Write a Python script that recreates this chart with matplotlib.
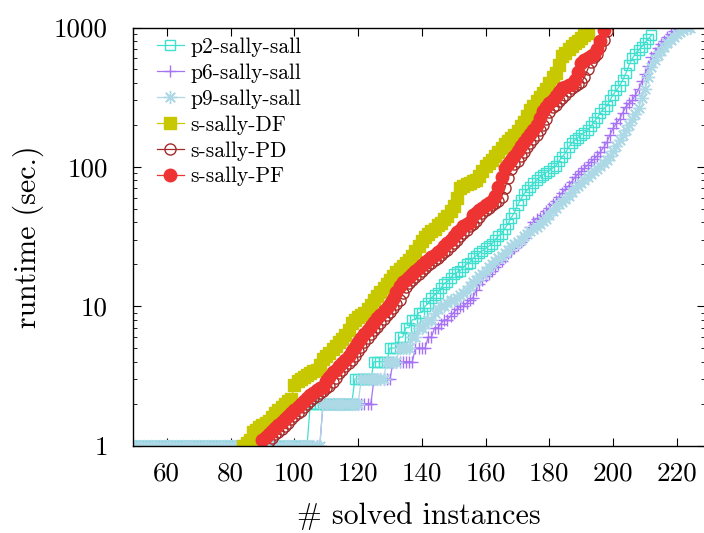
import numpy as np
import matplotlib
matplotlib.use('Agg')
import matplotlib.pyplot as plt
from matplotlib.ticker import FixedLocator, NullFormatter, LogLocator

plt.rcParams['font.family'] = ['cmr10', 'DejaVu Serif']
plt.rcParams['axes.formatter.use_mathtext'] = True

# runtime (sec.) of each solved instance, sorted; x = number of solved instances
p2_start = 50
p2_runtime = ([1] * 55 + [2] * 14 + [3] * 6 + [4] * 5 + [5] * 3 + [6] * 2 +
              [7, 7, 8, 8, 9, 9, 10, 10.5, 11.5, 12,
               12.5, 13.5, 14.5, 15, 16, 17, 17.5, 18, 19, 20,
               20.5, 22, 23, 24, 25, 26, 27, 28, 30, 32,
               33, 36, 39, 43, 47, 53, 58, 64, 68, 72,
               76, 80, 84, 88, 91, 94, 98, 101, 110, 118,
               125, 138, 148, 155, 162, 170, 176, 183, 195, 210,
               225, 245, 262, 272, 300, 330, 355, 380, 420, 470,
               540, 600, 650, 690, 730, 780, 830, 880])

p6_start = 50
p6_runtime = ([1] * 59 + [2] * 16 + [3] * 6 + [4] * 7 + [5] * 4 + [6] * 2 +
              [7, 7, 7.5, 8, 8, 8.5, 9, 9.5, 10, 10,
               10.5, 11, 11.5, 13, 14.5, 15.5, 16.5, 17, 18, 19,
               20, 21, 22.5, 24, 25, 26, 27.5, 29, 31, 33,
               37, 40, 42, 43, 45, 48, 51, 54, 57, 61,
               65, 69, 73, 78, 84, 89, 93, 98, 103, 108,
               114, 120, 128, 138, 150, 170, 190, 205, 220, 245,
               270, 285, 300, 330, 360, 410, 460, 530, 610, 660,
               710, 760, 800, 850, 900, 950, 990])

p9_start = 50
p9_runtime = ([1] * 59 + [2] * 12 + [3] * 8 + [4] * 4 + [5] * 4 + [6] * 2 +
              [7, 7, 7.5, 8, 8, 9, 9.5, 10, 10, 10.5,
               11, 11, 11.5, 12, 12.5, 13, 14, 15, 15.5, 16.5,
               17, 18, 19, 20, 21, 22, 23, 24, 25.5, 27,
               28, 29, 30, 32, 33, 34.5, 36, 37, 39, 41,
               42, 45, 48, 51, 54, 56, 59, 62, 66, 70,
               73, 76, 80, 84, 89, 93, 97, 102, 106, 112,
               120, 130, 142, 155, 168, 185, 200, 220, 240, 265,
               310, 360, 440, 520, 580, 630, 680, 730, 780, 820,
               860, 900, 930, 960, 985, 1000])

df_start = 84
df_runtime = [1.0,
              1.05, 1.1, 1.25, 1.3, 1.35, 1.4, 1.45, 1.5, 1.6, 1.7,
              1.8, 1.9, 2.0, 2.1, 2.15, 2.7, 2.9, 3.0, 3.1, 3.2,
              3.3, 3.4, 3.5, 3.8, 4.2, 4.4, 4.6, 4.9, 5.2, 5.5,
              5.8, 6.2, 6.8, 7.6, 8.0, 8.4, 8.7, 9.0, 9.5, 10.2,
              11, 11.8, 12.6, 13.5, 14.5, 15.5, 16.5, 17.5, 18.5, 19.5,
              20.5, 21.6, 23, 25, 27, 29.5, 31.6, 33, 34.5, 36,
              38, 39.8, 42, 44.5, 48, 52, 60, 70, 73, 75,
              77, 79, 81, 86, 93, 101, 107, 112, 119, 128,
              137, 147, 152, 160, 170, 180, 195, 210, 230, 255,
              275, 295, 315, 340, 360, 400, 440, 475, 540, 620,
              660, 700, 735, 770, 800, 840, 880, 910]

pd_start = 92
pd_runtime = [1.08, 1.14, 1.2, 1.26, 1.32, 1.39, 1.46, 1.54, 1.62, 1.7,
              1.78, 1.88, 1.98, 2.08, 2.18, 2.28, 2.38, 2.48, 2.58, 2.66,
              2.85, 3.05, 3.3, 3.5, 3.7, 3.9, 4.1, 4.4, 4.75, 5.1,
              5.5, 5.9, 6.3, 6.7, 7.1, 7.6, 8.1, 8.6, 9.1, 9.7,
              10.3, 11.1, 12.4, 13.8, 14.7, 15.5, 16.2, 17, 17.8, 18.7,
              19.6, 20.5, 21.4, 22.3, 23.3, 24.3, 25.5, 27, 28.5, 30,
              31.8, 33.5, 35.5, 37.5, 39, 41, 44, 47, 49, 51,
              53, 55, 57, 61, 70, 83, 96, 104, 111, 119,
              128, 138, 148, 158, 170, 183, 198, 222, 248, 268,
              280, 295, 310, 330, 350, 365, 378, 390, 405, 440,
              500, 570, 610, 650, 720, 820, 950]

pf_start = 90
pf_runtime = [1.1, 1.15, 1.2, 1.27, 1.33, 1.4, 1.48, 1.55, 1.63, 1.7,
              1.8, 1.9, 2.0, 2.1, 2.2, 2.3, 2.4, 2.5, 2.6, 2.65,
              2.9, 3.1, 3.35, 3.5, 3.7, 3.9, 4.1, 4.4, 4.8, 5.1,
              5.5, 5.9, 6.3, 6.7, 7.2, 7.7, 8.2, 8.7, 9.2, 9.7,
              10.3, 11.2, 12.6, 14, 14.8, 15.5, 16.2, 17, 17.8, 18.7,
              19.6, 20.6, 21.5, 22.4, 23.3, 24.3, 25.5, 27, 28.5, 30,
              31.8, 33.8, 35.5, 37.5, 39, 40, 45, 47, 49, 51,
              53, 55, 57, 62, 72, 85, 98, 105, 112, 119,
              130, 140, 150, 160, 172, 185, 200, 225, 250, 270,
              285, 300, 320, 345, 365, 375, 385, 395, 420, 480,
              560, 580, 600, 620, 650, 700, 800, 960]

series = [
    ('p2-sally-sall', p2_start, p2_runtime, '#40e0d0', 's', 7.0, 'none'),
    ('p6-sally-sall', p6_start, p6_runtime, '#a673f7', '+', 9.0, None),
    ('p9-sally-sall', p9_start, p9_runtime, '#add8e6', (8, 2, 0), 9.5, None),
    ('s-sally-DF', df_start, df_runtime, '#c8c800', 's', 9.0, '#c8c800'),
    ('s-sally-PD', pd_start, pd_runtime, '#a52a2a', 'o', 8.0, 'none'),
    ('s-sally-PF', pf_start, pf_runtime, '#ee3333', 'o', 9.0, '#ee3333'),
]

fig = plt.figure(figsize=(7.04, 5.33), dpi=100)
ax = fig.add_axes([133 / 704, 87.5 / 533, 572 / 704, 418 / 533])

for label, start, runtime, color, marker, ms, face in series:
    x = np.arange(start, start + len(runtime))
    kw = dict(markerfacecolor=face) if face is not None else {}
    ax.plot(x, runtime, color=color, lw=0.9, marker=marker, ms=ms,
            mew=1.0, label=label, **kw)

ax.set_yscale('log')
ax.set_xlim(49.4, 228.8)
ax.set_ylim(1, 1000)

ax.xaxis.set_major_locator(FixedLocator([60, 80, 100, 120, 140, 160, 180, 200, 220]))
ax.set_xticklabels(['60', '80', '100', '120', '140', '160', '180', '200', '220'])
ax.yaxis.set_major_locator(FixedLocator([1, 10, 100, 1000]))
ax.set_yticklabels(['1', '10', '100', '1000'])
ax.yaxis.set_minor_locator(LogLocator(base=10, subs=np.arange(2, 10)))
ax.yaxis.set_minor_formatter(NullFormatter())

ax.tick_params(axis='both', which='major', direction='in', length=6, width=0.8,
               top=True, right=True, labelsize=19.5)
ax.tick_params(axis='y', which='minor', direction='in', length=3, width=0.6,
               right=True)
ax.tick_params(axis='x', pad=12)
ax.tick_params(axis='y', pad=18)
for sp in ax.spines.values():
    sp.set_linewidth(1.0)

ax.set_xlabel('# solved instances', fontsize=21.5, labelpad=12)
ax.set_ylabel('runtime (sec.)', fontsize=21.5, labelpad=7)

ax.legend(loc='upper left', bbox_to_anchor=(0.042, 0.977), frameon=False,
          fontsize=15.5, handlelength=1.25, handletextpad=0.28, labelspacing=0.3,
          borderaxespad=0, borderpad=0, numpoints=1)

fig.savefig('out.png', dpi=100)
